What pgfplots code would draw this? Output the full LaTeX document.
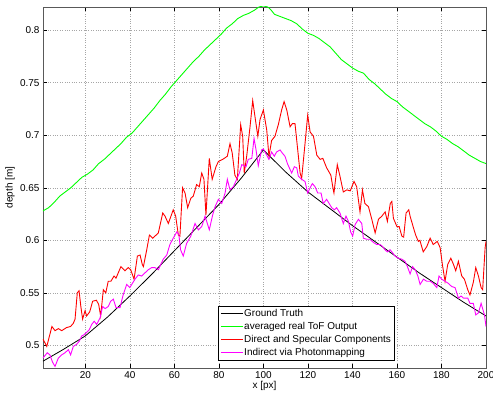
\documentclass[border=0pt]{standalone}
\usepackage{pgfplots}
\pgfplotsset{compat=1.18}
\usepackage{fontspec}
\setmainfont{Liberation Sans}
\begin{document}
\begin{tikzpicture}
\begin{axis}[
  scale only axis,
  width=443bp, height=361bp,
  xmin=1, xmax=200, ymin=0.4785, ymax=0.822,
  xtick={20,40,...,200},
  ytick={0.5,0.55,0.6,0.65,0.7,0.75,0.8},
  /pgf/number format/assume math mode=true,
  yticklabel style={/pgf/number format/fixed},
  font=\fontsize{10}{12}\selectfont,
  tick label style={font=\fontsize{10}{12}\selectfont},
  tick align=inside, major tick length=4bp,
  tick style={black, line width=0.4pt},
  axis line style={black!65, line width=0.8pt},
  grid=major,
  major grid style={dotted, gray!70, line width=0.5pt},
  xlabel={x [px]}, ylabel={depth [m]},
  every axis x label/.style={at={(axis description cs:0.5,-0.05)}, anchor=center},
  every axis y label/.style={at={(axis description cs:-0.0745,0.5)}, rotate=90, anchor=center},
  legend cell align=left,
  legend style={at={(0.794,0.022)}, anchor=south east, draw=black, fill=white,
    line width=0.5pt, font=\fontsize{10}{12}\selectfont,
    nodes={text height=7.5bp, text depth=2bp, inner ysep=1.8bp, inner xsep=1bp},
    inner xsep=2.5bp, inner ysep=0.5bp},
  legend image code/.code={\draw[#1] (0bp,0bp) -- (22bp,0bp);},
]
\addplot[black, line width=0.8pt] coordinates {
(1,0.485) (10,0.496) (20,0.509) (30,0.527) (40,0.547) (50,0.568) (60,0.590) (70,0.612) (80,0.634) (90,0.659) (100,0.686)
(110,0.665) (120,0.646) (130,0.630) (140,0.614) (150,0.599) (160,0.584) (170,0.569) (180,0.555) (190,0.541) (200,0.528)};
\addlegendentry{Ground Truth}
\addplot[color={rgb,255:red,0;green,255;blue,0}, line width=0.9pt] coordinates {
(1,0.628) (3.5,0.631) (6,0.636) (8.5,0.642) (11,0.646) (13.5,0.650) (16,0.655) (18.5,0.660) (21,0.663) (23.5,0.667)
(26,0.673) (28.5,0.677) (31,0.682) (33.5,0.687) (36,0.692) (38.5,0.698) (41,0.702) (43.5,0.708) (46,0.714) (48.5,0.720)
(51,0.726) (53.5,0.733) (56,0.739) (58.5,0.746) (61,0.752) (63.5,0.758) (66,0.764) (68.5,0.770) (71,0.775) (73.5,0.781)
(76,0.786) (78.5,0.791) (81,0.796) (83.5,0.802) (86,0.806) (88.5,0.811) (91,0.814) (93.5,0.816) (96,0.819) (98,0.822)
(100,0.823) (102,0.822) (103.5,0.819) (105,0.815) (107.5,0.813) (110,0.811) (112.5,0.809) (115,0.806) (117.5,0.801) (120,0.797)
(122.5,0.795) (125,0.792) (127.5,0.788) (130,0.784) (132.5,0.778) (135,0.772) (137.5,0.768) (140,0.764) (142.5,0.761) (145,0.759)
(147.5,0.753) (150,0.749) (152.5,0.744) (155,0.739) (157.5,0.735) (160,0.732) (162.5,0.727) (165,0.723) (167.5,0.719) (170,0.715)
(172.5,0.711) (175,0.708) (177.5,0.704) (180,0.699) (182.5,0.696) (185,0.692) (187.5,0.689) (190,0.685) (192.5,0.681) (195,0.678)
(197.5,0.675) (200,0.673)};
\addlegendentry{averaged real ToF Output}
\addplot[color={rgb,255:red,255;green,0;blue,0}, line width=0.9pt] coordinates {
(1,0.506) (2.7,0.499) (5,0.518) (6.4,0.514) (7.9,0.516) (9.4,0.514) (11.6,0.517) (13.4,0.518) (14.6,0.521) (15.4,0.525)
(16.4,0.550) (17.2,0.552) (18,0.537) (18.8,0.525) (19.9,0.533) (20.6,0.528) (22,0.532) (23.3,0.542) (25,0.543) (26,0.539)
(26.9,0.528) (28.1,0.553) (29.2,0.550) (30.3,0.561) (31.5,0.561) (32.9,0.566) (33.8,0.564) (35,0.570) (36,0.575) (37.8,0.571)
(39.3,0.574) (40.4,0.572) (41.9,0.563) (43.4,0.585) (44.6,0.586) (45.6,0.577) (46.1,0.575) (47.6,0.591) (48.8,0.605) (50.3,0.602)
(51.3,0.604) (52.8,0.607) (54.8,0.626) (55.8,0.623) (57.3,0.616) (59.5,0.629) (60.6,0.623) (61.8,0.605) (62.5,0.604) (63.7,0.650)
(64.8,0.645) (66,0.631) (67.4,0.640) (68.5,0.642) (70,0.653) (71.2,0.651) (72.3,0.664) (73.3,0.658) (74.2,0.624) (75.7,0.678)
(77,0.658) (78.7,0.670) (79.8,0.675) (81.7,0.677) (83.8,0.680) (85,0.692) (86,0.683) (87.2,0.662) (88.3,0.658) (89.8,0.710)
(90.7,0.699) (91.4,0.664) (92.5,0.680) (94,0.708) (95.2,0.733) (96.2,0.718) (97.5,0.699) (98.5,0.715) (100,0.724) (101.5,0.705)
(102.5,0.680) (103.7,0.695) (105.2,0.699) (106.7,0.710) (108.2,0.724) (109.3,0.732) (110.5,0.724) (112,0.708) (113,0.711) (114.2,0.711)
(116.5,0.664) (117.2,0.659) (118.7,0.692) (119.9,0.719) (121,0.703) (122.5,0.699) (124,0.681) (125.5,0.677) (126.7,0.678) (128.4,0.669)
(130.3,0.662) (131.4,0.648) (131.7,0.645) (133.2,0.672) (134.4,0.661) (135.9,0.646) (137.5,0.648) (139,0.647) (140.7,0.656) (141.9,0.651)
(143.4,0.627) (144.5,0.648) (145.6,0.635) (147.2,0.632) (148.7,0.620) (150.2,0.607) (151.7,0.620) (153.2,0.623) (154.7,0.627) (155.7,0.618)
(157,0.635) (157.7,0.637) (158.4,0.621) (160,0.613) (161,0.613) (162.2,0.604) (163,0.603) (164.1,0.626) (165.3,0.629) (165.9,0.623)
(167.4,0.612) (168.4,0.605) (169.6,0.599) (170.3,0.600) (171.8,0.589) (173.4,0.594) (174.9,0.602) (176.3,0.596) (178.1,0.599) (179.4,0.593)
(180.4,0.577) (181.6,0.561) (182.8,0.577) (184.2,0.583) (185.4,0.577) (186.4,0.571) (187.6,0.580) (189.1,0.566) (190.3,0.563) (191.8,0.553)
(192.8,0.548) (194.3,0.560) (195.4,0.574) (196.6,0.566) (197.8,0.555) (198.5,0.553) (199.6,0.593) (200,0.599)};
\addlegendentry{Direct and Specular Components}
\addplot[color={rgb,255:red,255;green,0;blue,255}, line width=0.9pt] coordinates {
(1,0.488) (2.9,0.493) (4.1,0.491) (5.3,0.484) (6.4,0.480) (7.9,0.488) (9.4,0.491) (10.9,0.493) (12.4,0.496) (13.4,0.491)
(14.6,0.499) (16.1,0.501) (17.3,0.504) (18.4,0.509) (19.4,0.510) (21.8,0.515) (22.9,0.520) (24,0.523) (25.1,0.520) (26.6,0.526)
(27.8,0.537) (28.9,0.535) (30.3,0.537) (31.4,0.542) (32.6,0.544) (33.8,0.536) (35.6,0.536) (37,0.548) (38.6,0.558) (40,0.555)
(42.3,0.563) (43.8,0.567) (45.3,0.566) (46.8,0.569) (48.3,0.572) (49.8,0.574) (51.3,0.574) (52.8,0.572) (55,0.582) (56.6,0.586)
(58,0.596) (59.5,0.602) (61.1,0.608) (62,0.606) (62.8,0.591) (64,0.585) (65.5,0.597) (67.4,0.604) (69.3,0.616) (70.8,0.610)
(72.3,0.613) (73.8,0.623) (75.7,0.610) (77.2,0.624) (78.3,0.632) (79.8,0.639) (81.3,0.635) (82.8,0.645) (83.8,0.658) (85,0.648)
(86.5,0.651) (88,0.658) (89.2,0.664) (90.3,0.672) (92.2,0.670) (93.2,0.677) (94.8,0.678) (95.8,0.697) (96.7,0.686) (97.7,0.671)
(99.2,0.686) (100,0.687) (101.5,0.681) (102.5,0.677) (103.7,0.684) (104.9,0.680) (105.9,0.684) (107.5,0.686) (108.5,0.683) (109.7,0.680)
(110.8,0.673) (112.7,0.664) (113.9,0.670) (115,0.669) (115.7,0.661) (117.2,0.658) (118.7,0.656) (119.9,0.645) (121,0.650) (122,0.654)
(123.2,0.651) (124.4,0.645) (125.9,0.645) (126.9,0.635) (128.4,0.639) (130.7,0.631) (131.9,0.629) (132.9,0.631) (134.4,0.626) (135.9,0.616)
(137.1,0.623) (138.2,0.618) (139.2,0.608) (140.1,0.604) (141.2,0.615) (142.7,0.620) (144.2,0.616) (144.9,0.602) (146.4,0.601) (147.9,0.601)
(149.4,0.598) (150.9,0.596) (152.4,0.596) (153.6,0.594) (154.6,0.591) (155.7,0.589) (156.9,0.591) (158.1,0.588) (159.1,0.585) (160.6,0.583)
(162.2,0.582) (163.6,0.580) (164.7,0.575) (165.9,0.568) (167,0.575) (168.2,0.572) (169.4,0.566) (170.4,0.558) (171.9,0.563) (173.4,0.561)
(175,0.561) (176.3,0.559) (177.9,0.555) (178.9,0.566) (180.1,0.563) (181.6,0.561) (183.1,0.559) (184.6,0.556) (186.1,0.555) (187.6,0.545)
(188.8,0.547) (189.9,0.545) (191.8,0.545) (192.8,0.540) (194.3,0.540) (195.4,0.529) (196.6,0.531) (197.8,0.540) (199.3,0.529) (200,0.518)};
\addlegendentry{Indirect via Photonmapping}
\end{axis}
\pgfresetboundingbox
\path ([xshift=-43bp,yshift=-26bp]current axis.south west) rectangle ([xshift=7bp,yshift=7bp]current axis.north east);
\end{tikzpicture}
\end{document}
